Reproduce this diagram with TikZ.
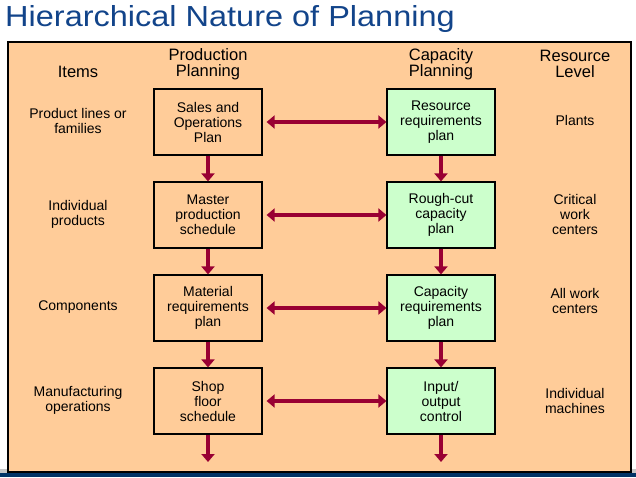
\documentclass[tikz,border=0pt]{standalone}
\usepackage{fontspec}
\setmainfont{Liberation Sans}
\usetikzlibrary{arrows.meta}

\definecolor{peach}{RGB}{255,204,153}
\definecolor{mint}{RGB}{204,255,204}
\definecolor{wine}{RGB}{153,0,51}
\definecolor{titleblue}{RGB}{18,68,138}
\definecolor{barblue}{RGB}{0,51,102}

\begin{document}
\begin{tikzpicture}[x=1pt, y=-1pt,
    planbox/.style={draw, line width=1.2pt, fill=peach, minimum width=108pt, minimum height=66pt,
        align=center, inner sep=2pt, font=\fontsize{14}{15}\selectfont},
    capbox/.style={planbox, fill=mint},
    lbl/.style={align=center, inner sep=0pt, font=\fontsize{14}{15}\selectfont},
    head/.style={align=center, inner sep=0pt, font=\fontsize{16.5}{16.5}\selectfont},
    flow/.style={wine, line width=4pt, -{Triangle[width=13pt, length=8pt]}},
    link/.style={wine, line width=4pt, {Triangle[width=13pt, length=8pt]}-{Triangle[width=13pt, length=8pt]}}]
    \useasboundingbox (0, 0) rectangle (636, 477);

    % slide background
    \fill[gray!45] (0, 469) rectangle (636, 473);
    \fill[barblue] (0, 473) rectangle (636, 477);
    \node[anchor=west, inner sep=0pt, xscale=1.12, text=titleblue, font=\fontsize{29}{29}\selectfont] (title) at (5, 19) {Hierarchical Nature of Planning};
    \draw[line width=2pt, fill=peach] (8, 42) rectangle (631, 472);

    % column headings
    \node[head] (hitems) at (78, 72) {Items};
    \node[head] (hprod) at (208, 64) {Production\\Planning};
    \node[head] (hcap) at (441, 64) {Capacity\\Planning};
    \node[head] (hres) at (575, 64) {Resource\\Level};

    % production planning
    \node[planbox] (sop) at (208, 122) {Sales and\\Operations\\Plan};
    \node[planbox] (mps) at (208, 215) {Master\\production\\schedule};
    \node[planbox] (mrp) at (208, 308) {Material\\requirements\\plan};
    \node[planbox] (sfs) at (208, 401) {Shop\\floor\\schedule};

    % capacity planning
    \node[capbox] (rrp) at (441, 122) {Resource\\requirements\\plan};
    \node[capbox] (rcc) at (441, 215) {Rough-cut\\capacity\\plan};
    \node[capbox] (crp) at (441, 308) {Capacity\\requirements\\plan};
    \node[capbox] (ioc) at (441, 401) {Input/\\output\\control};

    % items and resource levels
    \node[lbl] (families) at (78, 120.5) {Product lines or\\families};
    \node[lbl] (products) at (78, 214.5) {Individual\\products};
    \node[lbl] (parts) at (78, 307) {Components};
    \node[lbl] (mfgops) at (78, 400.5) {Manufacturing\\operations};
    \node[lbl] (plants) at (575, 120) {Plants};
    \node[lbl] (critical) at (575, 214) {Critical\\work\\centers};
    \node[lbl] (allwc) at (575, 300.5) {All work\\centers};
    \node[lbl] (machines) at (575, 400.5) {Individual\\machines};

    \coordinate (pend) at (208, 462);
    \coordinate (cend) at (441, 462);

    % arrows
    \foreach \a/\b in {sop/mps, mps/mrp, mrp/sfs, sfs/pend, rrp/rcc, rcc/crp, crp/ioc, ioc/cend}
        \draw[flow] (\a) -- (\b);
    \foreach \a/\b in {sop/rrp, mps/rcc, mrp/crp, sfs/ioc}
        \draw[link] ([xshift=4pt]\a.east) -- (\b.west);
\end{tikzpicture}
\end{document}
